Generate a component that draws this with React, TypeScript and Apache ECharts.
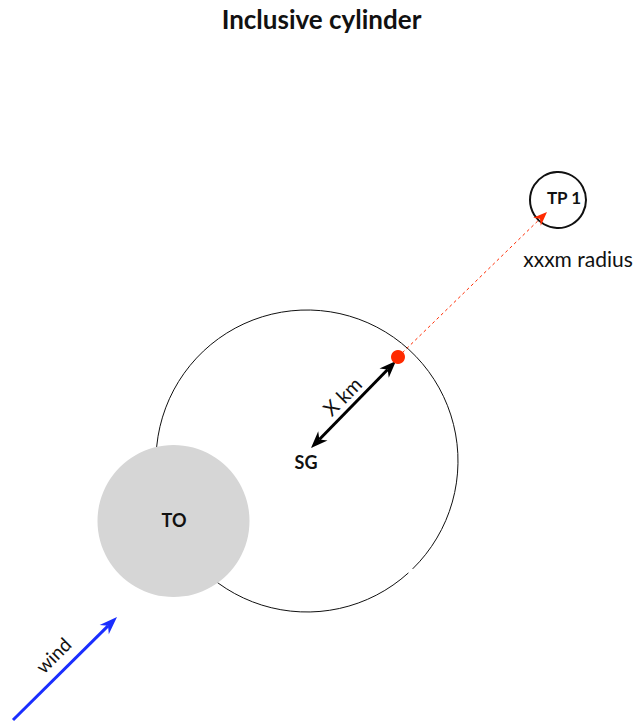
import React, { useEffect, useRef } from "react";
import * as echarts from "echarts";

// Diagram geometry (diagram units = page pixels, y downward)
const circleNames = ["Start cylinder", "TO", "TP 1"];
const circleCx = [307, 173.5, 558];
const circleCy = [461, 521, 200];
const circleR = [151, 76, 28];

const arrowNames = ["X km", "course line", "wind"];
const arrowFrom = [[311, 448], [398, 357], [13, 720]];
const arrowTo = [[396, 361], [547, 212], [117, 617]];
const arrowBoth = [true, false, false];

const dotX = [398];
const dotY = [357];

const labelTexts = ["TO", "SG", "TP 1", "xxxm radius", "X km", "wind"];
const labelX = [174, 306, 564, 578, 342, 53];
const labelY = [520, 462, 197, 258, 396, 655];
const labelRot = [0, 0, 0, 0, 45, 45];

// Styles
const FONT = "Lato, 'Open Sans', sans-serif";
const circleStyles = [
  { fill: "none", stroke: "#111", lineWidth: 1, gap: true },
  { fill: "#d6d6d6", stroke: "none", lineWidth: 0, gap: false },
  { fill: "none", stroke: "#111", lineWidth: 2, gap: false },
];
const arrowStyles = [
  { color: "#000", lineWidth: 3, dash: false, headL: 17, headW: 13 },
  { color: "#ff2a00", lineWidth: 1, dash: true, headL: 14, headW: 11 },
  { color: "#1a2eff", lineWidth: 3, dash: false, headL: 18, headW: 13 },
];
const labelStyles = [
  { size: 18, weight: "bold" },
  { size: 18, weight: "bold" },
  { size: 17, weight: "bold" },
  { size: 21, weight: "normal" },
  { size: 20, weight: "normal" },
  { size: 19, weight: "normal" },
];

function head(tip: number[], from: number[], L: number, W: number) {
  const dx = tip[0] - from[0];
  const dy = tip[1] - from[1];
  const len = Math.hypot(dx, dy) || 1;
  const ux = dx / len, uy = dy / len;
  const nx = -uy, ny = ux;
  const bx = tip[0] - ux * L, by = tip[1] - uy * L;
  const notch = [tip[0] - ux * L * 0.7, tip[1] - uy * L * 0.7];
  return {
    points: [
      tip,
      [bx + (nx * W) / 2, by + (ny * W) / 2],
      notch,
      [bx - (nx * W) / 2, by - (ny * W) / 2],
    ],
    notch,
  };
}

export default function App() {
  const ref = useRef<HTMLDivElement>(null);
  useEffect(() => {
    if (!ref.current) return;
    const chart = echarts.init(ref.current, undefined, { renderer: "svg" });
    chart.setOption({
      animation: false,
      title: {
        text: "Inclusive cylinder",
        left: "center",
        top: 1,
        textStyle: { fontSize: 26, fontWeight: "bold", fontFamily: FONT, color: "#111" },
      },
      grid: { left: 0, right: 0, top: 0, bottom: 0 },
      xAxis: { type: "value", min: 0, max: 643, show: false },
      yAxis: { type: "value", min: 0, max: 724, inverse: true, show: false },
      series: [
        {
          type: "custom",
          name: "circles",
          coordinateSystem: "cartesian2d",
          data: circleNames.map((n, i) => ({ name: n, value: [circleCx[i], circleCy[i], circleR[i]] })),
          renderItem: (params: any, api: any) => {
            const i = params.dataIndex;
            const c = api.coord([api.value(0), api.value(1)]);
            const r = api.size([api.value(2), 0])[0];
            const s = circleStyles[i];
            if (s.gap) {
              return {
                type: "arc",
                shape: { cx: c[0], cy: c[1], r, startAngle: (47.8 * Math.PI) / 180, endAngle: ((45.6 + 360) * Math.PI) / 180 },
                style: { stroke: s.stroke, lineWidth: s.lineWidth, fill: "none" },
              };
            }
            return {
              type: "circle",
              shape: { cx: c[0], cy: c[1], r },
              style: { fill: s.fill, stroke: s.stroke, lineWidth: s.lineWidth },
            };
          },
          z: 1,
        },
        {
          type: "custom",
          name: "arrows",
          coordinateSystem: "cartesian2d",
          data: arrowNames.map((n, i) => ({ name: n, value: [arrowFrom[i][0], arrowFrom[i][1], arrowTo[i][0], arrowTo[i][1]] })),
          renderItem: (params: any, api: any) => {
            const i = params.dataIndex;
            const a = api.coord([api.value(0), api.value(1)]);
            const b = api.coord([api.value(2), api.value(3)]);
            const s = arrowStyles[i];
            const hb = head(b, a, s.headL, s.headW);
            let start = a;
            const children: any[] = [];
            if (arrowBoth[i]) {
              const ha = head(a, b, s.headL, s.headW);
              start = ha.notch;
              children.push({ type: "polygon", shape: { points: ha.points }, style: { fill: s.color } });
            }
            children.unshift({
              type: "line",
              shape: { x1: start[0], y1: start[1], x2: hb.notch[0], y2: hb.notch[1] },
              style: { stroke: s.color, lineWidth: s.lineWidth, lineDash: s.dash ? [3, 3] : null },
            });
            children.push({ type: "polygon", shape: { points: hb.points }, style: { fill: s.color } });
            return { type: "group", children };
          },
          z: 2,
        },
        {
          type: "custom",
          name: "turn point",
          coordinateSystem: "cartesian2d",
          data: dotX.map((x, i) => [x, dotY[i]]),
          renderItem: (params: any, api: any) => {
            const c = api.coord([api.value(0), api.value(1)]);
            return { type: "circle", shape: { cx: c[0], cy: c[1], r: 7 }, style: { fill: "#ff2a00" } };
          },
          z: 3,
        },
        {
          type: "custom",
          name: "labels",
          coordinateSystem: "cartesian2d",
          data: labelTexts.map((t, i) => ({ name: t, value: [labelX[i], labelY[i], labelRot[i]] })),
          renderItem: (params: any, api: any) => {
            const i = params.dataIndex;
            const c = api.coord([api.value(0), api.value(1)]);
            const s = labelStyles[i];
            return {
              type: "text",
              x: c[0],
              y: c[1],
              rotation: (api.value(2) * Math.PI) / 180,
              style: {
                text: labelTexts[i],
                align: "center",
                verticalAlign: "middle",
                fontSize: s.size,
                fontWeight: s.weight,
                fontFamily: FONT,
                fill: "#111",
              },
            };
          },
          z: 4,
        },
      ],
    });
    return () => chart.dispose();
  }, []);
  return <div ref={ref} style={{ position: "absolute", left: 0, top: 0, width: 643, height: 724 }} />;
}
